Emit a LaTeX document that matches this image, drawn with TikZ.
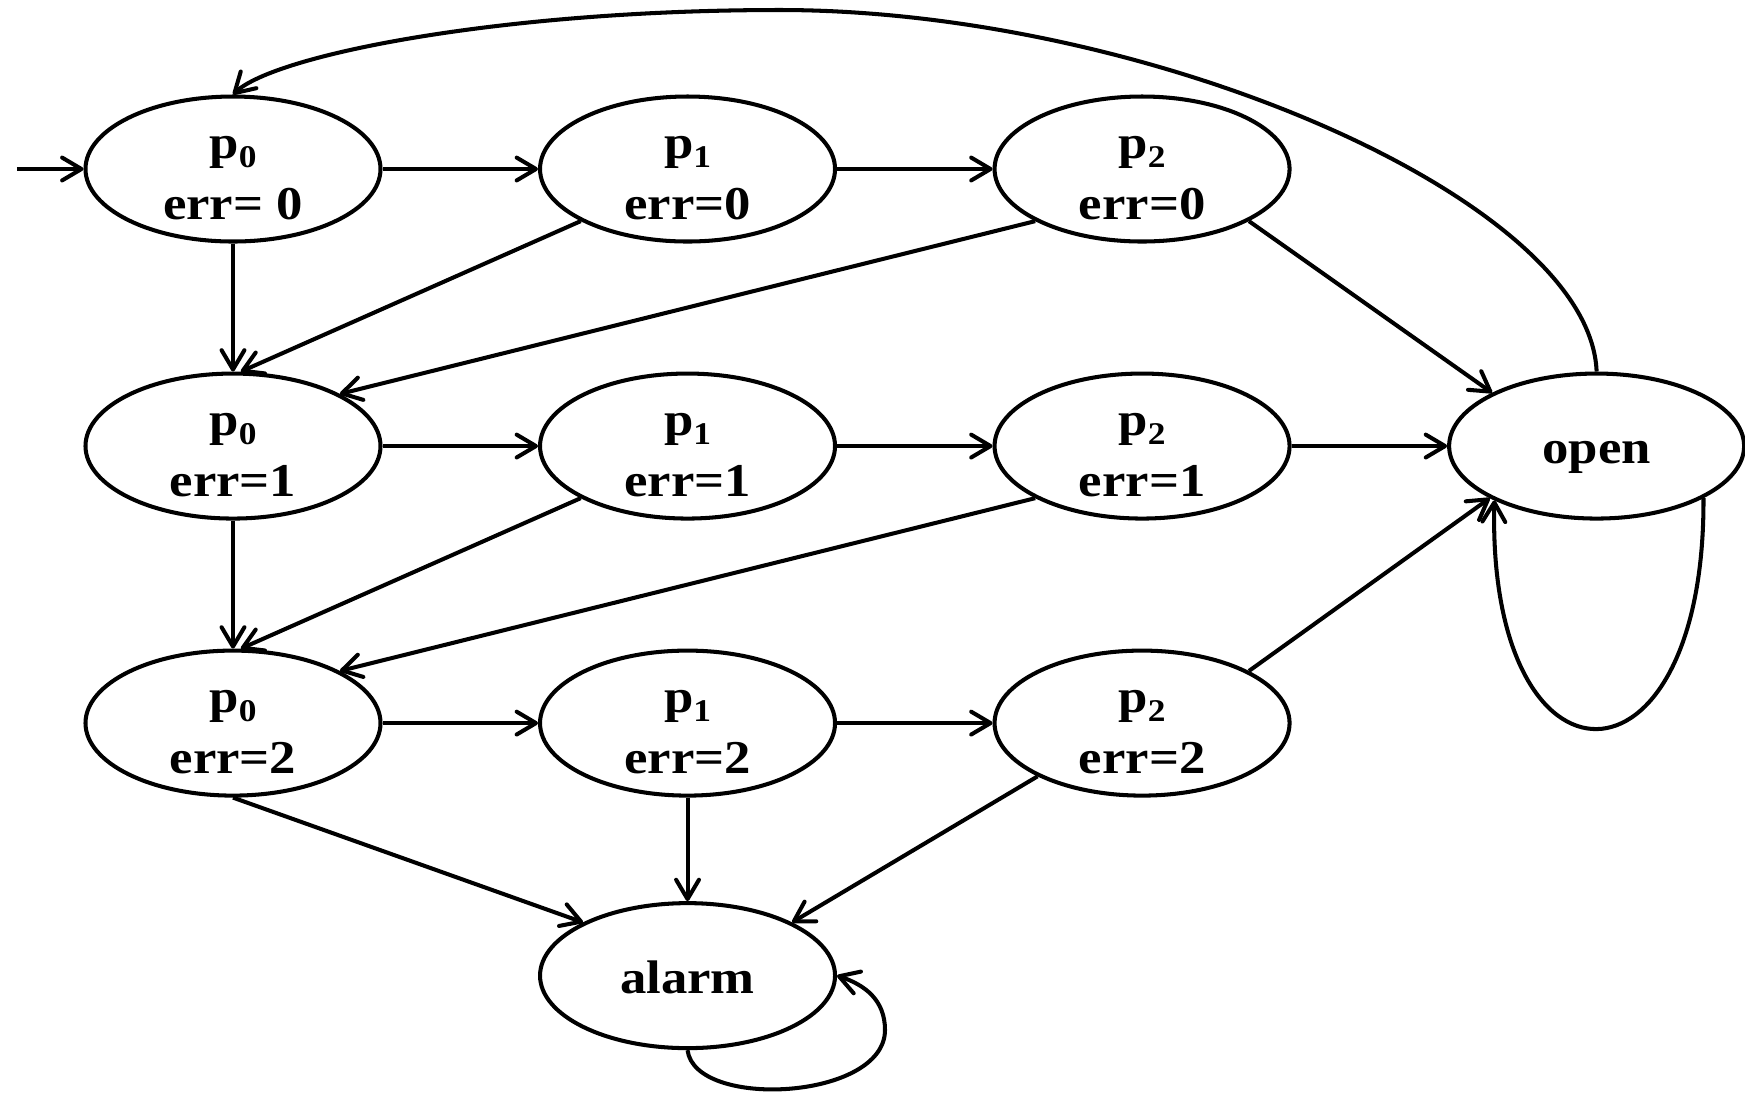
\documentclass[tikz,border=0pt]{standalone}
\usepackage{fontspec}
\setmainfont[FakeStretch=1.12]{Liberation Serif}
\usetikzlibrary{arrows.meta,positioning,shapes.geometric}
\newcommand{\pidx}[1]{\rule{0pt}{11.5pt}p\raisebox{-2.5pt}{\fontsize{9}{9}\selectfont #1}}

\begin{document}
\begin{tikzpicture}[
    node distance=1.28cm and 1.555cm,
    every node/.style={font=\fontsize{13.4}{17.5}\selectfont\bfseries},
    state/.style={draw, ellipse, line width=1.15pt, align=center, minimum width=2.95cm, minimum height=1.45cm, inner sep=0pt},
    endstate/.style={state, text height=10pt, text depth=0pt},
    trans/.style={-{Straight Barb[length=5.5pt,width=6.5pt,round]}, line width=1.15pt}
]
\useasboundingbox (0,0) rectangle (17.45,-10.93);
\node[state] (p0a) at (2.33,-1.69) {\pidx{0}\\err= 0};
\node[state, right=of p0a] (p1a) {\pidx{1}\\err=0};
\node[state, right=of p1a] (p2a) {\pidx{2}\\err=0};
\node[state, below=of p0a] (p0b) {\pidx{0}\\err=1};
\node[state, right=of p0b] (p1b) {\pidx{1}\\err=1};
\node[state, right=of p1b] (p2b) {\pidx{2}\\err=1};
\node[endstate, right=of p2b] (open) {open};
\node[state, below=of p0b] (p0c) {\pidx{0}\\err=2};
\node[state, right=of p0c] (p1c) {\pidx{1}\\err=2};
\node[state, right=of p1c] (p2c) {\pidx{2}\\err=2};
\node[endstate, below=1.035cm of p1c] (alarm) {alarm};
\coordinate (start) at (0.17,-1.69);
\draw[trans] (start) -- (p0a);
\draw[trans] (p0a) -- (p1a);
\draw[trans] (p1a) -- (p2a);
\draw[trans] (p0b) -- (p1b);
\draw[trans] (p1b) -- (p2b);
\draw[trans] (p2b) -- (open);
\draw[trans] (p0c) -- (p1c);
\draw[trans] (p1c) -- (p2c);
\draw[trans] (p0a) -- (p0b);
\draw[trans] (p0b) -- (p0c);
\draw[trans] (p1c) -- (alarm);
\draw[trans] (p1a.-154) -- (p0b.84);
\draw[trans] (p2a.-154) -- (p0b.26);
\draw[trans] (p1b.-154) -- (p0c.84);
\draw[trans] (p2b.-154) -- (p0c.26);
\draw[trans] (p2a.-26) -- (open.153);
\draw[trans] (p2c.26) -- (open.-154);
\draw[trans] (p0c.south) -- (alarm.153);
\draw[trans] (p2c.-153) -- (alarm.27);
\draw[trans] (open.north) .. controls (15.90,-2.00) and (11.50,-0.10) .. (7.80,-0.10)
    .. controls (5.00,-0.10) and (2.75,-0.55) .. (p0a.north);
\draw[trans] (open.-26) .. controls (17.05,-8.05) and (14.87,-8.05) .. (open.-152);
\draw[trans] (alarm.south) .. controls (6.95,-11.10) and (8.85,-11.00) .. (8.85,-10.30)
    .. controls (8.85,-10.00) and (8.65,-9.85) .. (alarm.east);
\end{tikzpicture}
\end{document}
